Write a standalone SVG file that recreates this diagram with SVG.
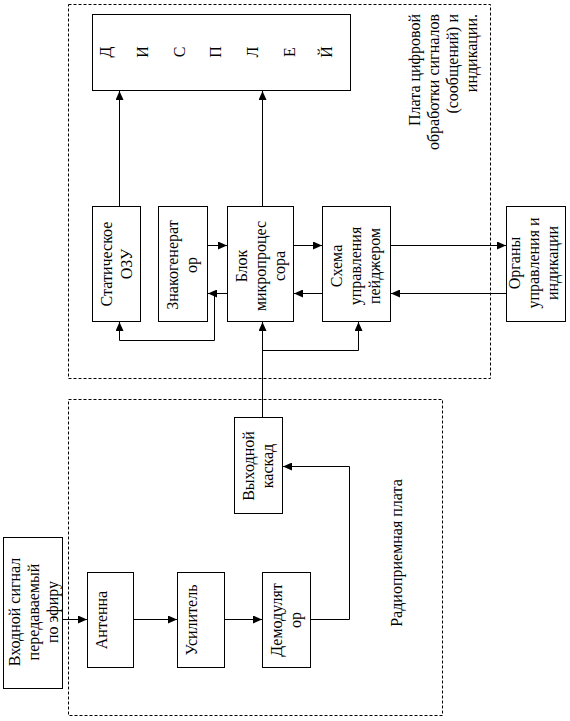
<svg xmlns="http://www.w3.org/2000/svg" width="570" height="721" viewBox="0 0 570 721">
<style>
.box{fill:#fff;stroke:#000;stroke-width:1}
.board{fill:none;stroke:#000;stroke-width:1;stroke-dasharray:3,2}
.t{font-family:"Liberation Serif","Times New Roman",serif;font-size:16px;fill:#000;text-anchor:middle}
.e{text-anchor:end}
.c path{fill:none;stroke:#000;stroke-width:1}
</style>
<defs>
<marker id="ah" markerUnits="userSpaceOnUse" markerWidth="9" markerHeight="8" refX="9" refY="4" orient="auto">
<path d="M0,0 L9,4 L0,8 z" fill="#000"/>
</marker>
</defs>
<rect width="570" height="721" fill="#fff"/>
<g id="board-digital">
<rect class="board" x="68.5" y="4.5" width="422" height="374"/>
<text class="t e" transform="translate(420,14) rotate(-90)">Плата цифровой</text>
<text class="t e" transform="translate(439,14) rotate(-90)">обработки сигналов</text>
<text class="t e" transform="translate(458,14) rotate(-90)">(сообщений) и</text>
<text class="t e" transform="translate(477,14) rotate(-90)">индикации.</text>
</g>
<g id="board-radio">
<rect class="board" x="68.5" y="399.5" width="374" height="316"/>
<text class="t" transform="translate(402,553) rotate(-90)">Радиоприемная плата</text>
</g>
<g id="display">
<rect class="box" x="92.5" y="14.5" width="258" height="76"/>
<text class="t" transform="translate(111,52) rotate(-90)">Д</text>
<text class="t" transform="translate(148,52) rotate(-90)">И</text>
<text class="t" transform="translate(185,52) rotate(-90)">С</text>
<text class="t" transform="translate(221,52) rotate(-90)">П</text>
<text class="t" transform="translate(258,52) rotate(-90)">Л</text>
<text class="t" transform="translate(295,52) rotate(-90)">Е</text>
<text class="t" transform="translate(332,52) rotate(-90)">Й</text>
</g>
<g id="ozu">
<rect class="box" x="92.5" y="206.5" width="48" height="115"/>
<text class="t" transform="translate(112,264) rotate(-90)">Статическое</text>
<text class="t" transform="translate(132,264) rotate(-90)">ОЗУ</text>
</g>
<g id="znakogen">
<rect class="box" x="158.5" y="206.5" width="49" height="115"/>
<text class="t" transform="translate(178,265) rotate(-90)">Знакогенерат</text>
<text class="t" transform="translate(197,265) rotate(-90)">ор</text>
</g>
<g id="mcu">
<rect class="box" x="227.5" y="206.5" width="66" height="115"/>
<text class="t" transform="translate(247,266) rotate(-90)">Блок</text>
<text class="t" transform="translate(266,266) rotate(-90)">микропроцес</text>
<text class="t" transform="translate(285,266) rotate(-90)">сора</text>
</g>
<g id="pager">
<rect class="box" x="322.5" y="206.5" width="68" height="115"/>
<text class="t" transform="translate(342,266) rotate(-90)">Схема</text>
<text class="t" transform="translate(361,266) rotate(-90)">управления</text>
<text class="t" transform="translate(380,266) rotate(-90)">пейджером</text>
</g>
<g id="organs">
<rect class="box" x="506.5" y="206.5" width="59" height="115"/>
<text class="t" transform="translate(520,263) rotate(-90)">Органы</text>
<text class="t" transform="translate(539,263) rotate(-90)">управления и</text>
<text class="t" transform="translate(558,263) rotate(-90)">индикации</text>
</g>
<g id="input">
<rect class="box" x="3.5" y="537.5" width="59" height="151"/>
<text class="t" transform="translate(20,612) rotate(-90)">Входной сигнал</text>
<text class="t" transform="translate(39,612) rotate(-90)">передаваемый</text>
<text class="t" transform="translate(58,612) rotate(-90)">по эфиру</text>
</g>
<g id="antenna">
<rect class="box" x="87.5" y="572.5" width="46" height="95"/>
<text class="t" transform="translate(107,620) rotate(-90)">Антенна</text>
</g>
<g id="amp">
<rect class="box" x="177.5" y="572.5" width="47" height="95"/>
<text class="t" transform="translate(197,620) rotate(-90)">Усилитель</text>
</g>
<g id="demod">
<rect class="box" x="262.5" y="572.5" width="48" height="95"/>
<text class="t" transform="translate(282,620) rotate(-90)">Демодулят</text>
<text class="t" transform="translate(301,620) rotate(-90)">ор</text>
</g>
<g id="output">
<rect class="box" x="234.5" y="417.5" width="48" height="96"/>
<text class="t" transform="translate(254,466) rotate(-90)">Выходной</text>
<text class="t" transform="translate(273,466) rotate(-90)">каскад</text>
</g>
<g id="connectors" class="c">
<path d="M62.5,619.5 H87" marker-end="url(#ah)"/>
<path d="M133.5,619.5 H177" marker-end="url(#ah)"/>
<path d="M224.5,619.5 H262" marker-end="url(#ah)"/>
<path d="M310.5,619.5 H349.5 V466.5 H283" marker-end="url(#ah)"/>
<path d="M262.5,417.5 V322" marker-end="url(#ah)"/>
<path d="M262.5,350.5 H358.5 V322" marker-end="url(#ah)"/>
<path d="M119.5,206.5 V91" marker-end="url(#ah)"/>
<path d="M262.5,206.5 V91" marker-end="url(#ah)"/>
<path d="M207.5,245.5 H227" marker-end="url(#ah)"/>
<path d="M227.5,293.5 H208" marker-end="url(#ah)"/>
<path d="M214.5,293.5 V340.5 H119.5 V322" marker-end="url(#ah)"/>
<path d="M293.5,245.5 H322" marker-end="url(#ah)"/>
<path d="M322.5,293.5 H294" marker-end="url(#ah)"/>
<path d="M390.5,245.5 H506" marker-end="url(#ah)"/>
<path d="M506.5,293.5 H391" marker-end="url(#ah)"/>
</g>
</svg>
